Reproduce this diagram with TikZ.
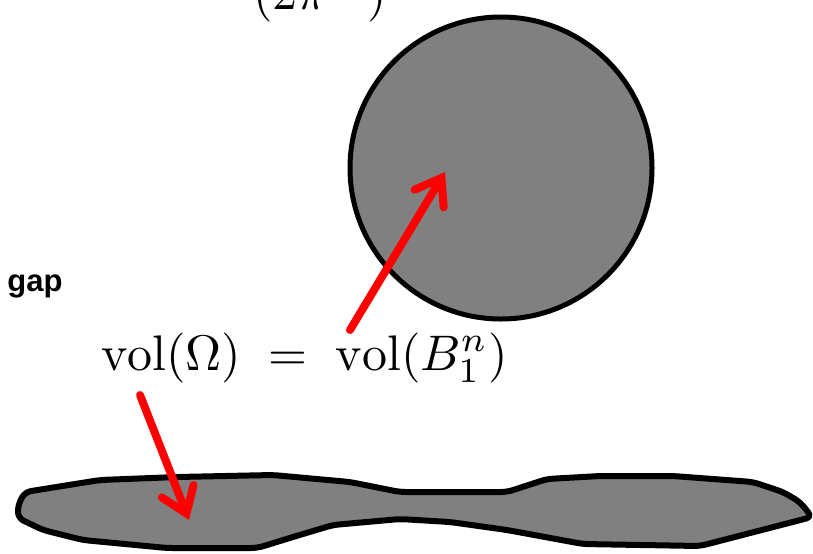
\documentclass[tikz,border=0pt]{standalone}
\usepackage{fontspec}
\usepackage{amsmath}
\usepackage{tikz}
\usetikzlibrary{arrows.meta}
\newfontfamily\gapfont{Liberation Sans}

\begin{document}
\begin{tikzpicture}[x=0.5pt, y=-0.5pt,
    ball/.style = {draw, circle, fill=gray, line width=2.5pt, minimum size=151pt, inner sep=0pt},
    blob/.style = {draw, fill=gray, line width=3pt, line join=round, rounded corners=3pt},
    redarrow/.style = {draw=red, line width=4pt, line cap=round, -{Straight Barb[length=12pt, width=17pt, line cap=round]}},
    formula/.style = {inner sep=0pt, scale=2.5}]
    \useasboundingbox (0,0) rectangle (813,553);
    \clip (0,0) rectangle (813,553);

    \node[formula, anchor=base west] (top) at (252,9) {$(2\pi\hspace{8pt})$};
    \node[ball] (B) at (501,168) {};
    \node[anchor=base west, inner sep=0pt, font=\gapfont\bfseries\fontsize{15.5}{18}\selectfont] (gap) at (7,291) {gap};
    \node[formula, anchor=base west] (vol) at (100,370) {$\mathrm{vol}(\Omega)\;=\;\mathrm{vol}(B_1^n)$};

    % the flat set
    \draw[blob] (18,505) -- (25,492) -- (100,480) -- (177,477) -- (273,475) -- (350,482)
        -- (400,492) -- (507,492) -- (547,479) -- (600,476) -- (673,476) -- (753,482)
        -- (783,492) -- (800,502) -- (812,517) -- (700,546) -- (583,544) -- (507,530)
        -- (450,522) -- (400,519) -- (333,525) -- (293,537) -- (267,545) -- (257,548)
        -- (167,548) -- (83,540) -- (43,530) -- (18,518) -- cycle;

    \coordinate (s1) at (350,330);
    \coordinate (t1) at (445,172);
    \coordinate (s2) at (140,395);
    \coordinate (t2) at (189,520);
    \path[redarrow] (s1) -- (t1);
    \path[redarrow] (s2) -- (t2);
\end{tikzpicture}
\end{document}
